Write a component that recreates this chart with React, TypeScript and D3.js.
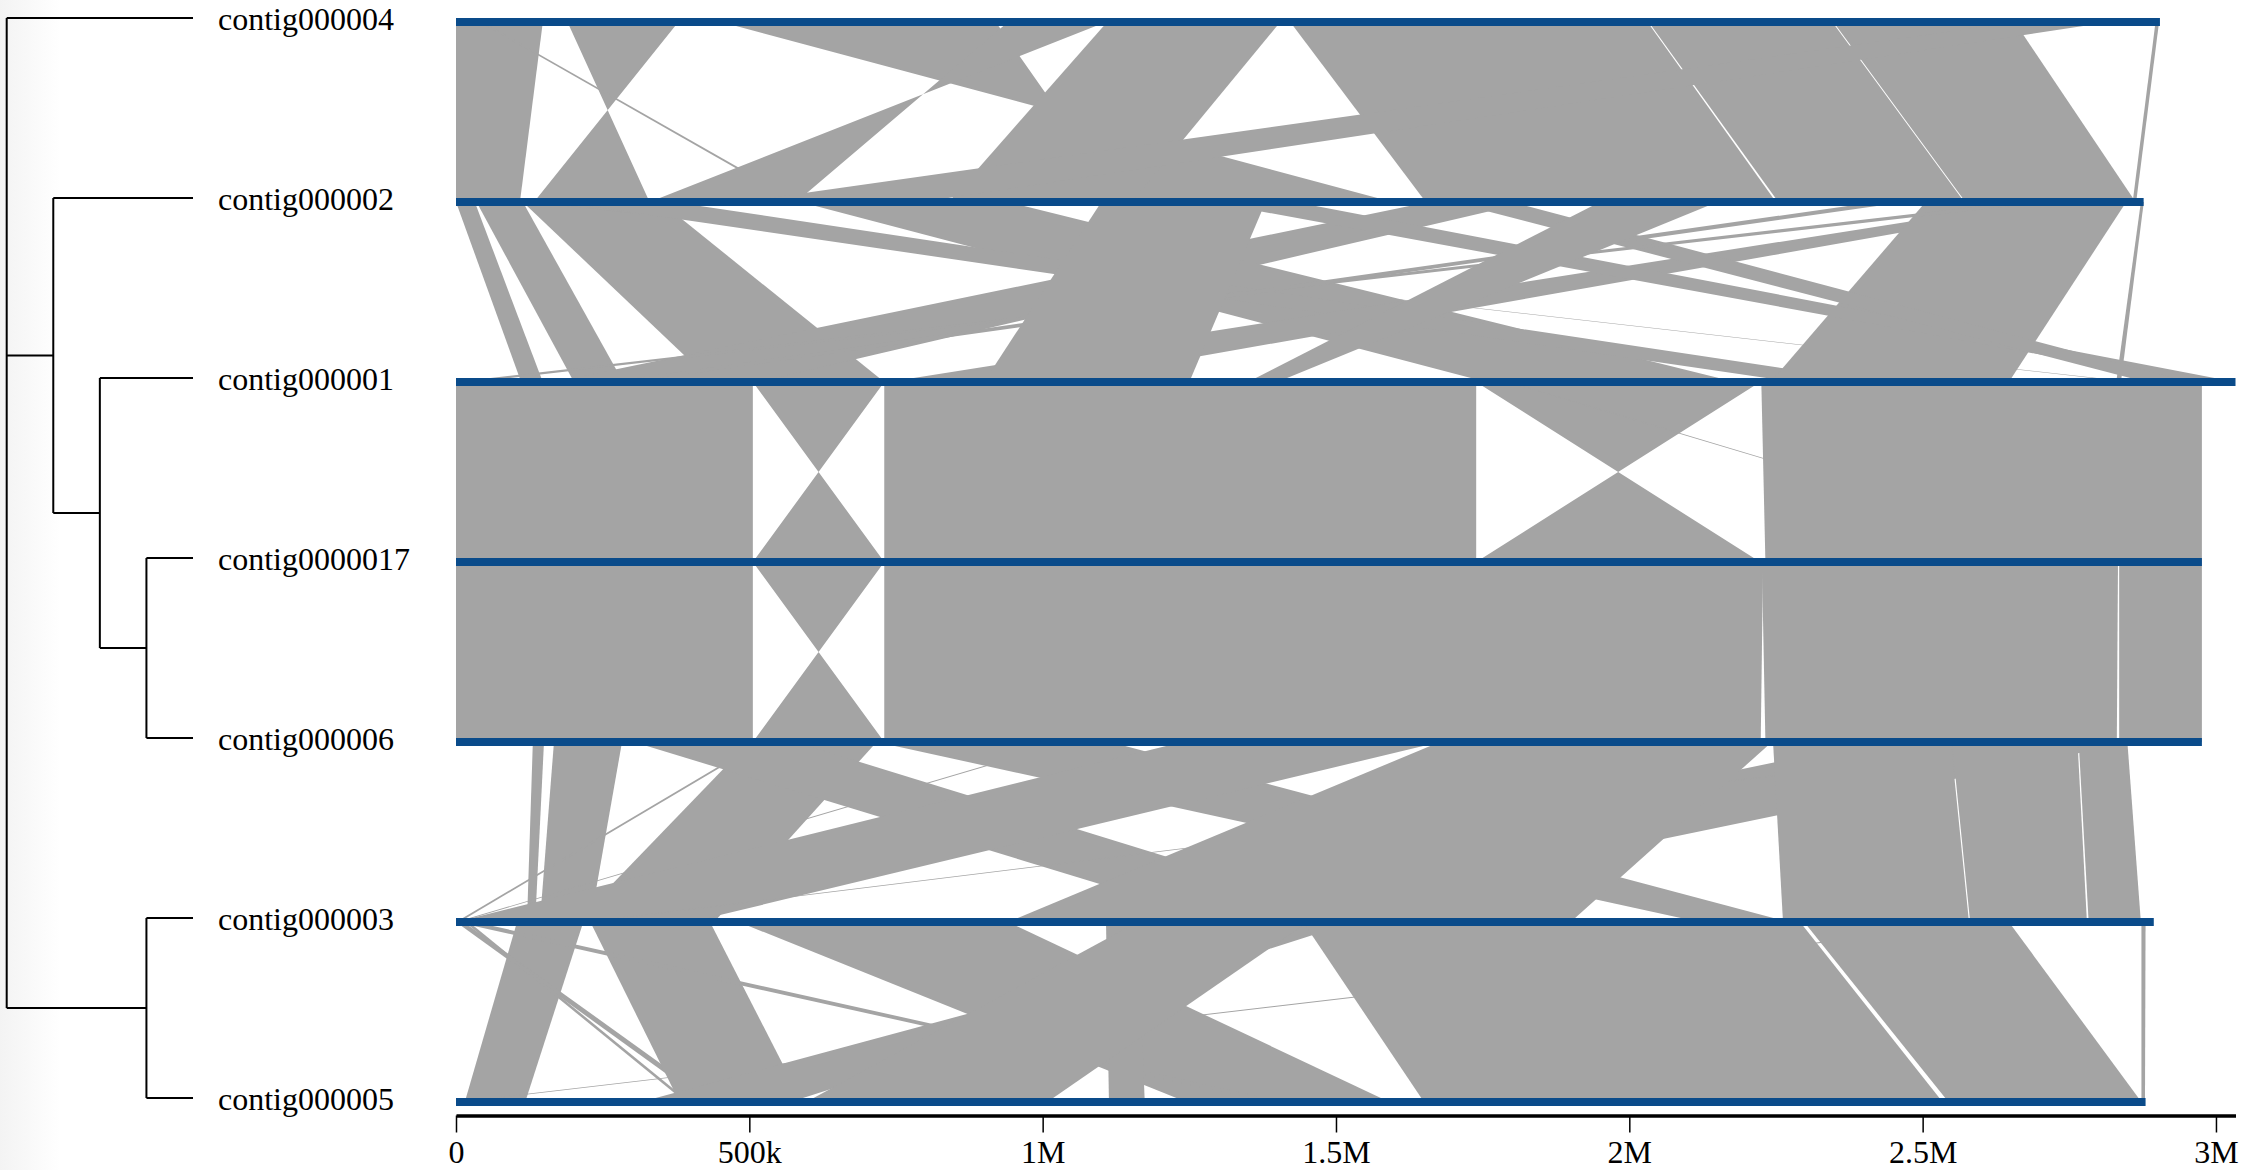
import React, { useEffect, useRef } from "react";
import * as d3 from "d3";

// contigs in display order (top to bottom) and their lengths in bp
const contigs = ["contig000004", "contig000002", "contig000001", "contig0000017", "contig000006", "contig000003", "contig000005"];
const lengths = [2904500, 2876700, 3033300, 2976000, 2976000, 2894000, 2880000];

// tree (cladogram)
const tree = {
  children: [
    { name: "contig000004" },
    {
      children: [
        { name: "contig000002" },
        {
          children: [
            { name: "contig000001" },
            { children: [{ name: "contig0000017" }, { name: "contig000006" }] },
          ],
        },
      ],
    },
    { children: [{ name: "contig000003" }, { name: "contig000005" }] },
  ],
};

// axis ticks
const tickValues = [0, 500000, 1000000, 1500000, 2000000, 2500000, 3000000];
const tickLabels = ["0", "500k", "1M", "1.5M", "2M", "2.5M", "3M"];

// synteny blocks between adjacent contigs: [topStart, topEnd, bottomStart, bottomEnd] in kb
// (bottomStart > bottomEnd marks an inverted block)
const band_4_2 = [
  [0, 148, 0, 109],
  [190, 379, 330, 133],
  [40, 45, 578, 585],
  [452, 920, 1596, 1135],
  [941, 1108, 580, 330],
  [1110, 1405, 840, 1152],
  [1422, 2031, 1653, 2250],
  [2033, 2346, 2254, 2571],
  [2348, 2657, 2573, 2863],
  [2662, 2819, 484, 794],
  [2897, 2903, 2858, 2864],
];
const band_2_1 = [
  [0, 32, 111, 148],
  [35, 114, 201, 285],
  [114, 349, 437, 730],
  [130, 137, 2850, 2858],
  [1658, 1829, 168, 514],
  [587, 940, 1756, 2180],
  [180, 370, 2280, 2420],
  [2689, 2758, 737, 1020],
  [2505, 2847, 2241, 2647],
  [2872, 2877, 2830, 2838],
  [1285, 1430, 2955, 3033],
  [1697, 1800, 2880, 2955],
  [2660, 2710, 0, 32],
  [2420, 2470, 260, 300],
  [1100, 1380, 900, 1250],
  [1950, 2150, 1350, 1400],
];
const band_1_17 = [
  [0, 506, 0, 506],
  [506, 730, 730, 506],
  [730, 1739, 730, 1739],
  [1739, 2223, 2223, 1739],
  [1791, 1796, 2816, 2821],
  [2225, 2976, 2232, 2976],
];
const band_17_6 = [
  [0, 506, 0, 506],
  [506, 730, 730, 506],
  [730, 2228, 730, 2224],
  [2226, 2833, 2232, 2831],
  [2835, 2976, 2835, 2976],
];
const band_6_3 = [
  [131, 150, 121, 135],
  [167, 283, 143, 229],
  [518, 524, 0, 6],
  [1038, 1044, 0, 5],
  [500, 717, 204, 440],
  [303, 578, 1310, 1572],
  [717, 1115, 2119, 2271],
  [1238, 1677, 0, 400],
  [2414, 2858, 941, 1373],
  [2708, 2722, 217, 229],
  [1677, 2243, 941, 1900],
  [2245, 2548, 2262, 2579],
  [2550, 2764, 2581, 2780],
  [2766, 2849, 2783, 2872],
];
const band_3_5 = [
  [104, 217, 15, 118],
  [0, 13, 425, 440],
  [15, 22, 391, 398],
  [2617, 2633, 0, 12],
  [229, 433, 381, 590],
  [482, 941, 1245, 1591],
  [0, 32, 1382, 1410],
  [1452, 1530, 315, 570],
  [1108, 1162, 1113, 1174],
  [1162, 1452, 597, 1008],
  [1444, 2291, 1650, 2534],
  [2298, 2647, 2544, 2873],
  [2873, 2880, 2873, 2879],
];
const bands = [band_4_2, band_2_1, band_1_17, band_17_6, band_6_3, band_3_5];

const W = 2258;
const H = 1170;
const rowTop = 18;
const rowStep = 180;
const barH = 8;

export default function App() {
  const ref = useRef<SVGSVGElement | null>(null);

  useEffect(() => {
    const svg = d3.select(ref.current);
    svg.selectAll("*").remove();

    const x = d3.scaleLinear().domain([0, d3.max(lengths) as number]).range([456, 2235.5]);
    const rowY = (i: number) => rowTop + i * rowStep;

    // light shade on far left
    const defs = svg.append("defs");
    const grad = defs.append("linearGradient").attr("id", "shade").attr("x1", 0).attr("x2", 1);
    grad.append("stop").attr("offset", 0).attr("stop-color", "#f3f3f3");
    grad.append("stop").attr("offset", 1).attr("stop-color", "#ffffff");
    svg.append("rect").attr("x", 0).attr("y", 0).attr("width", 60).attr("height", H).attr("fill", "url(#shade)");

    // ribbons
    const gR = svg.append("g");
    bands.forEach((band, bi) => {
      const y0 = rowY(bi) + barH / 2;
      const y1 = rowY(bi + 1) + barH / 2;
      band.forEach((b) => {
        const [t0, t1, b0, b1] = b.map((v) => x(v * 1000));
        const p = d3.path();
        p.moveTo(t0, y0);
        p.lineTo(t1, y0);
        p.lineTo(b1, y1);
        p.lineTo(b0, y1);
        p.closePath();
        gR.append("path").attr("d", p.toString()).attr("fill", "#a4a4a4");
      });
    });

    // contig bars
    svg
      .append("g")
      .selectAll("rect")
      .data(contigs)
      .join("rect")
      .attr("x", x(0))
      .attr("y", (_, i) => rowY(i))
      .attr("width", (_, i) => x(lengths[i]) - x(0))
      .attr("height", barH)
      .attr("fill", "#0a4b8a");

    // dendrogram
    const root = d3.hierarchy(tree as any);
    const cl = d3.cluster().size([1, 1]).separation(() => 1);
    cl(root as any);
    const leaves = root.leaves();
    const leafIndex = new Map(leaves.map((l: any, i: number) => [l.data.name, i]));
    const xd = d3.scaleLinear().domain([0, 1]).range([6.7, 193]);
    const setY = (n: any): number => {
      if (!n.children) {
        n.py = rowY(leafIndex.get(n.data.name) as number);
        return n.py;
      }
      const ys = n.children.map(setY);
      n.py = (ys[0] + ys[ys.length - 1]) / 2;
      return n.py;
    };
    setY(root);
    const gT = svg.append("g").attr("fill", "none").attr("stroke", "#000").attr("stroke-width", 2);
    root.descendants().forEach((n: any) => {
      if (!n.children) return;
      const nx = xd(n.y);
      const ys = n.children.map((c: any) => c.py);
      gT.append("path").attr("d", `M${nx},${d3.min(ys)}V${d3.max(ys)}`);
      n.children.forEach((c: any) => {
        gT.append("path").attr("d", `M${nx},${c.py}H${xd(c.y)}`);
      });
    });

    // labels
    svg
      .append("g")
      .selectAll("text")
      .data(contigs)
      .join("text")
      .attr("x", 218)
      .attr("y", (_, i) => rowY(i) + 12)
      .attr("font-family", "'Liberation Serif', 'Times New Roman', serif")
      .attr("font-size", 32)
      .attr("fill", "#000")
      .text((d) => d);

    // axis
    const axisY = 1115.5;
    const gA = svg.append("g").attr("transform", `translate(0,${axisY})`);
    const axis = d3
      .axisBottom(x)
      .tickValues(tickValues)
      .tickFormat((_, i) => tickLabels[i])
      .tickSize(17)
      .tickSizeOuter(0)
      .tickPadding(8);
    gA.call(axis as any);
    gA.select(".domain").attr("stroke-width", 3.5).attr("stroke", "#000");
    gA.selectAll(".tick line").attr("stroke-width", 1.5).attr("stroke", "#000");
    gA.selectAll(".tick text")
      .attr("font-family", "'Liberation Serif', 'Times New Roman', serif")
      .attr("font-size", 32)
      .attr("fill", "#000");
  }, []);

  return (
    <svg
      ref={ref}
      width={W}
      height={H}
      style={{ position: "absolute", left: 0, top: 0, background: "#fff" }}
    />
  );
}
